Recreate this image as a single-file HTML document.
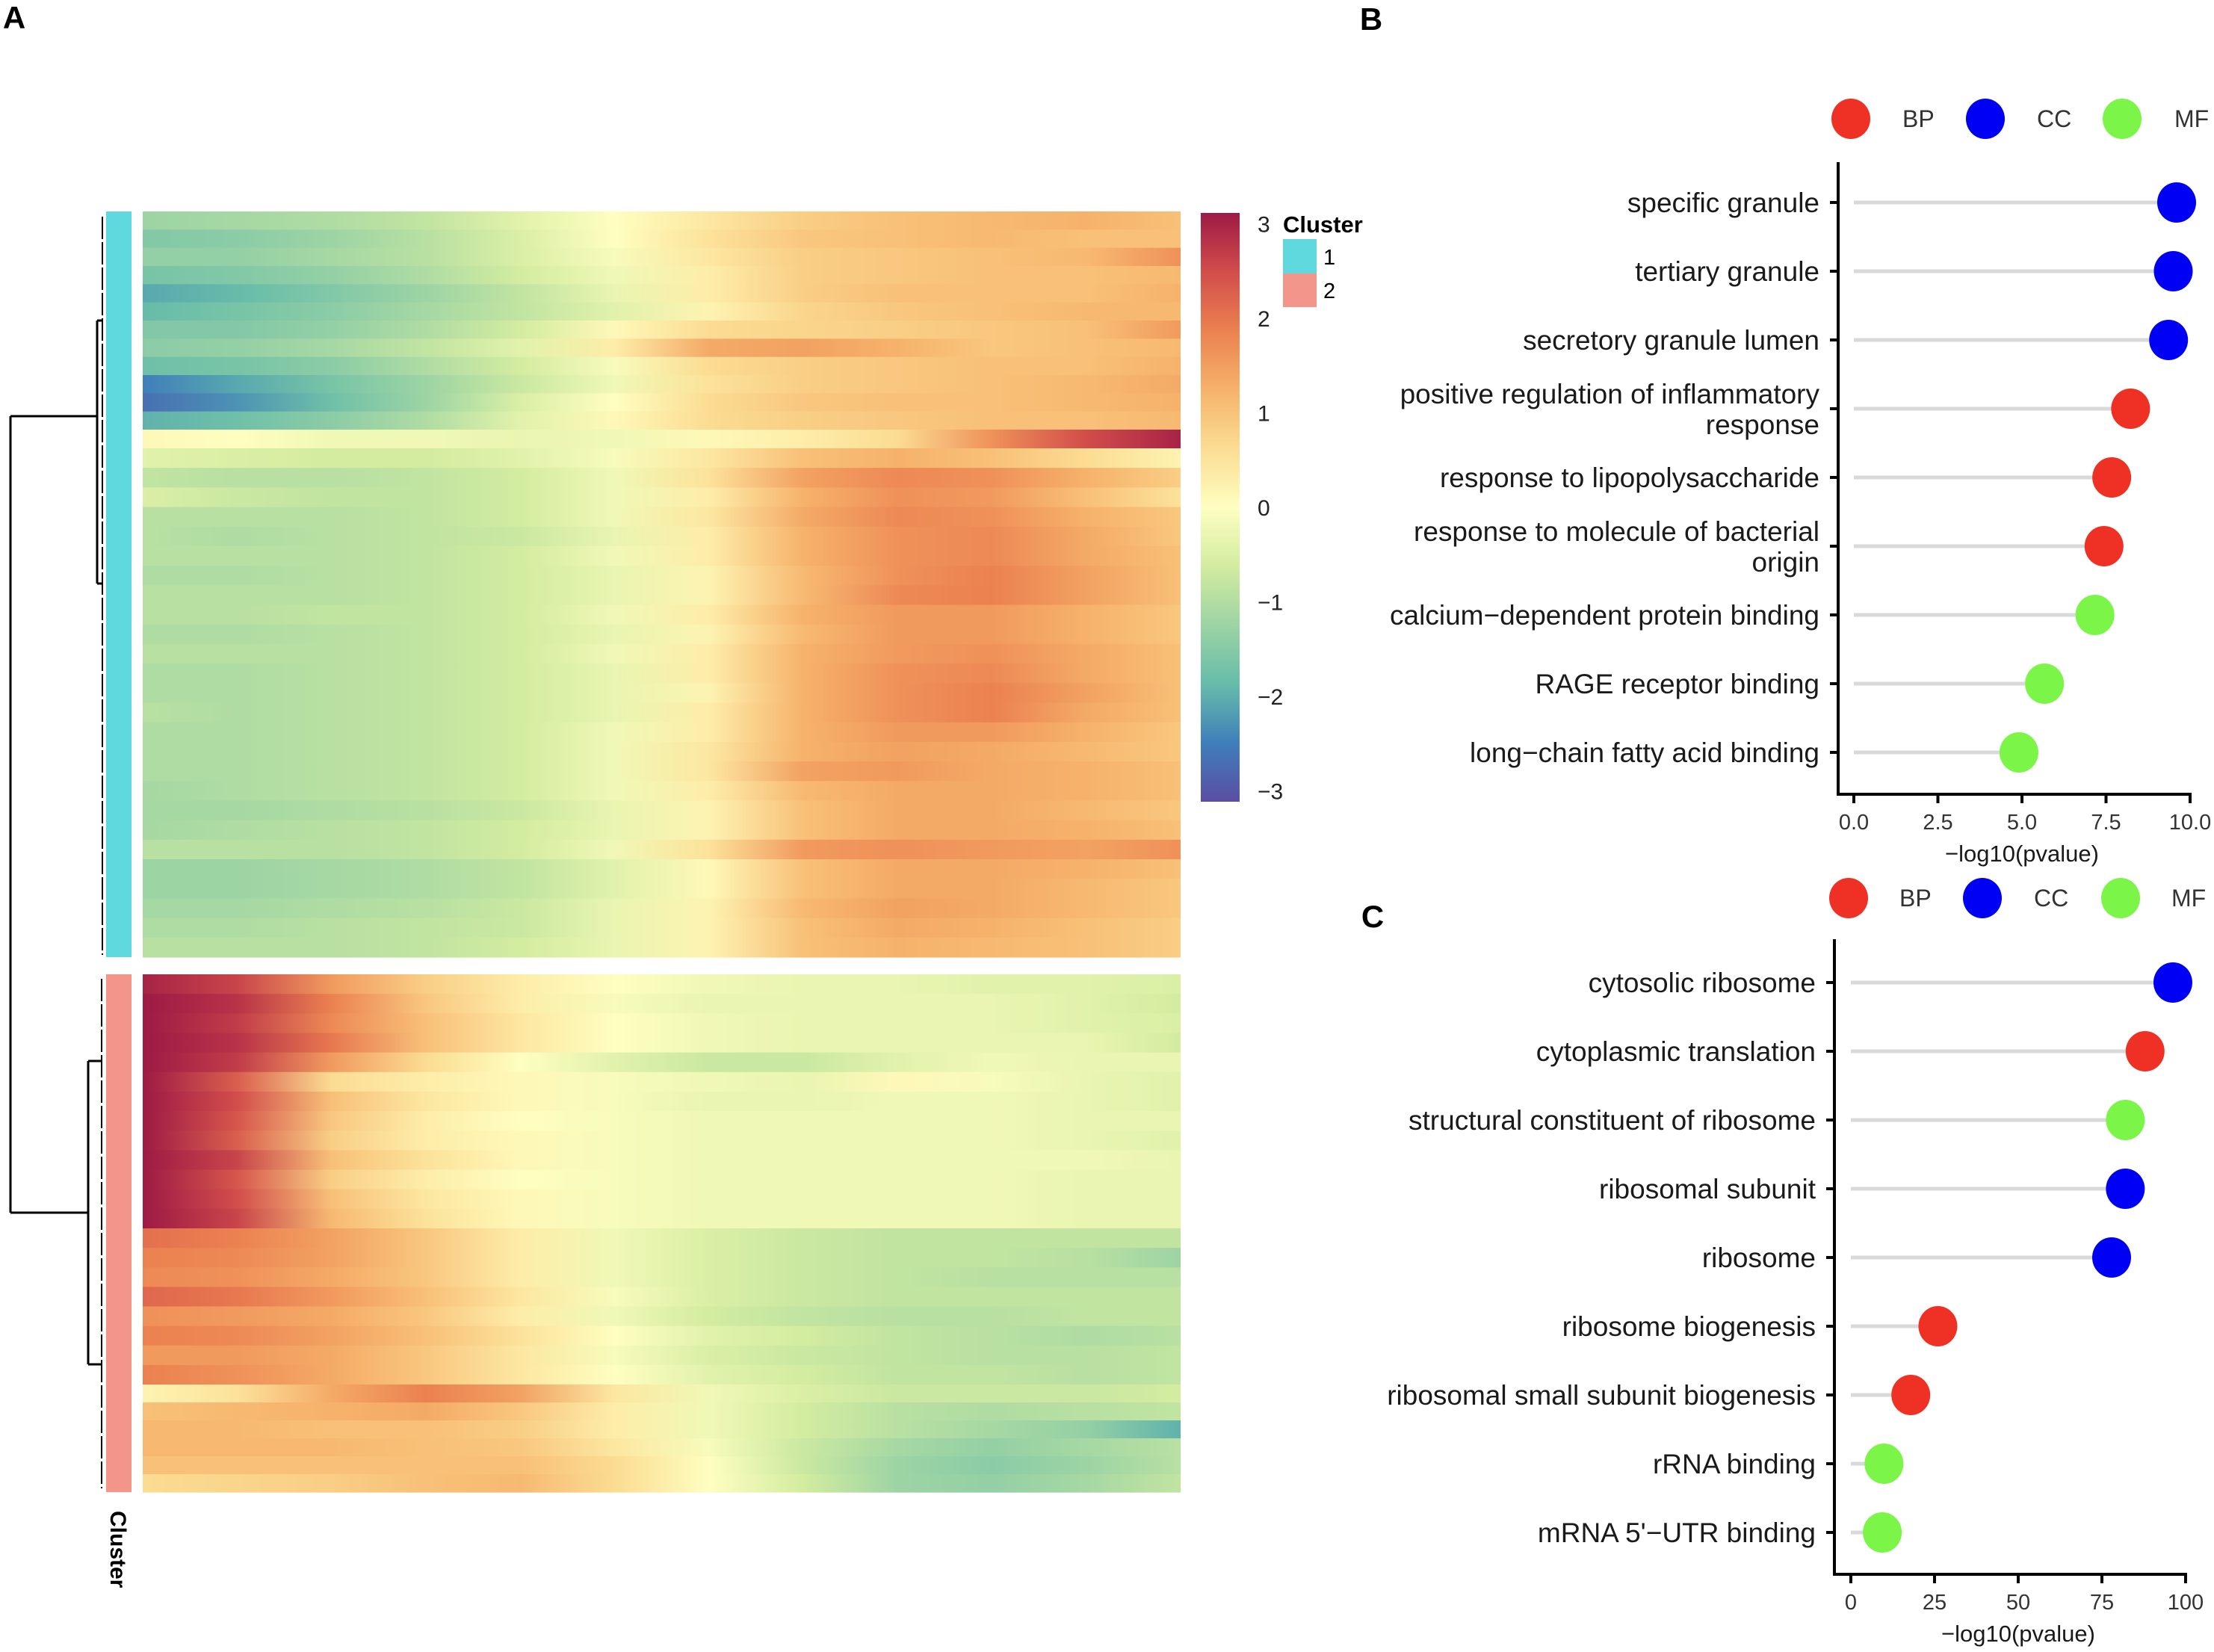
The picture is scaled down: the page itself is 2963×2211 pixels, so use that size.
<!DOCTYPE html>
<html><head><meta charset="utf-8">
<style>
html,body{margin:0;padding:0;background:#fff;}
svg{display:block;font-family:"Liberation Sans",Arial,sans-serif;}
</style></head>
<body>
<svg id="fig" width="2963" height="2211" viewBox="0 0 2963 2211" xmlns="http://www.w3.org/2000/svg">
<defs id="defs"></defs>
<text x="19" y="38" font-size="42" font-weight="bold" text-anchor="middle">A</text>
<text x="1835" y="40" font-size="42" font-weight="bold" text-anchor="middle">B</text>
<text x="1837" y="1241" font-size="42" font-weight="bold" text-anchor="middle">C</text>
<g id="heat"></g>
<g id="dendro" stroke="#000" stroke-width="3" fill="none">
  <path d="M14 557 V1623 M14 557 H130 M14 1623 H118 M130 429 V781 M130 429 H138 M130 781 H138 M118 1420 V1826 M118 1420 H136 M118 1826 H136"/>
  <path d="M137 290 V1278 M136 1310 V1992" stroke-width="2" stroke-dasharray="30 4"/>
</g>
<rect x="142" y="283" width="34" height="998" fill="#5fd8de"/>
<rect x="142" y="1304" width="34" height="693" fill="#f4958a"/>
<text transform="translate(148,2022) rotate(90)" font-size="30" font-weight="bold">Cluster</text>
<g id="cbar"></g>
<text x="1717" y="311" font-size="31" font-weight="bold">Cluster</text>
<rect x="1717" y="320" width="45" height="46" fill="#5fd8de"/>
<rect x="1717" y="366" width="45" height="45" fill="#f4958a"/>
<text x="1771" y="354" font-size="29">1</text>
<text x="1771" y="399" font-size="29">2</text>
<g id="panelB"></g>
<g id="panelC"></g>
</svg>
<script>
// ---------- Heatmap data (row profiles, 12 evenly spaced columns) ----------
const heatTopRows = [
 [-1.2,-1.1,-1.0,-0.8,-0.4,0.0,0.4,0.8,1.0,1.1,1.2,1.0],
 [-1.5,-1.4,-1.2,-0.9,-0.5,0.0,0.5,0.9,1.0,1.1,1.0,1.0],
 [-1.3,-1.3,-1.1,-0.9,-0.5,-0.1,0.4,0.8,0.9,1.0,1.1,1.6],
 [-1.6,-1.5,-1.3,-1.0,-0.6,-0.2,0.3,0.8,0.9,1.0,1.0,1.1],
 [-2.0,-1.8,-1.5,-1.2,-0.8,-0.3,0.3,0.8,1.0,1.0,1.0,1.2],
 [-1.8,-1.6,-1.4,-1.1,-0.8,-0.4,0.2,0.7,0.9,1.0,1.1,1.1],
 [-1.5,-1.5,-1.3,-1.0,-0.6,0.1,0.6,0.7,0.8,0.9,1.0,1.5],
 [-1.4,-1.3,-1.1,-0.8,-0.4,0.3,1.3,1.4,1.2,0.9,1.0,1.1],
 [-1.7,-1.6,-1.4,-1.0,-0.6,-0.1,0.6,0.8,0.9,1.0,1.0,1.2],
 [-2.4,-2.0,-1.6,-1.2,-0.7,-0.2,0.5,0.8,0.9,1.0,1.1,1.3],
 [-2.6,-2.2,-1.7,-1.2,-0.5,0.0,0.6,0.9,1.0,1.0,1.1,1.2],
 [-1.9,-1.7,-1.4,-1.0,-0.4,0.1,0.6,0.8,0.9,1.0,1.0,1.1]
];
const heatRedRow = [
 [0.1,0.0,-0.2,-0.2,-0.3,-0.2,0.1,0.3,0.6,1.6,2.4,2.9]
];
const heatMidRows = [
 [-0.4,-0.5,-0.6,-0.6,-0.4,-0.1,0.4,1.0,1.2,1.0,0.6,0.2],
 [-0.8,-0.9,-0.9,-0.8,-0.6,-0.2,0.5,1.4,1.7,1.6,1.2,0.8],
 [-0.5,-0.7,-0.8,-0.8,-0.6,-0.2,0.3,1.2,1.6,1.5,1.0,0.5],
 [-0.9,-0.9,-0.9,-0.8,-0.6,-0.2,0.4,1.3,1.7,1.6,1.2,0.9],
 [-0.9,-1.0,-0.9,-0.8,-0.7,-0.3,0.3,1.2,1.6,1.7,1.3,0.9],
 [-0.9,-0.9,-0.9,-0.8,-0.6,-0.2,0.3,1.2,1.6,1.7,1.3,1.0],
 [-1.0,-1.0,-0.9,-0.8,-0.6,-0.3,0.2,1.1,1.6,1.8,1.4,1.0],
 [-0.9,-0.9,-0.9,-0.8,-0.6,-0.3,0.2,1.1,1.7,1.8,1.4,1.0],
 [-0.9,-0.9,-0.8,-0.8,-0.6,-0.2,0.3,1.2,1.5,1.5,1.2,0.9],
 [-1.0,-1.0,-0.9,-0.8,-0.6,-0.3,0.2,1.1,1.5,1.5,1.2,0.9],
 [-0.9,-0.9,-0.9,-0.8,-0.6,-0.2,0.3,1.2,1.5,1.6,1.3,1.0],
 [-1.0,-1.0,-0.9,-0.8,-0.6,-0.3,0.3,1.2,1.6,1.7,1.3,1.0],
 [-1.0,-1.0,-0.9,-0.8,-0.6,-0.3,0.2,1.2,1.6,1.8,1.4,1.0],
 [-0.9,-1.0,-0.9,-0.8,-0.6,-0.3,0.3,1.2,1.6,1.8,1.3,1.0],
 [-1.0,-1.0,-0.9,-0.8,-0.6,-0.2,0.3,1.2,1.5,1.5,1.2,0.9],
 [-1.0,-1.0,-0.9,-0.8,-0.6,-0.2,0.4,1.2,1.4,1.3,1.1,0.9],
 [-1.0,-1.0,-0.9,-0.8,-0.6,-0.2,0.4,1.4,1.5,1.3,1.2,1.0],
 [-1.1,-1.0,-0.9,-0.8,-0.6,-0.2,0.3,1.1,1.3,1.3,1.2,1.0],
 [-1.1,-1.1,-1.0,-0.9,-0.7,-0.3,0.2,1.0,1.3,1.3,1.1,0.9],
 [-1.1,-1.0,-0.9,-0.8,-0.6,-0.3,0.2,1.0,1.3,1.3,1.2,1.0],
 [-0.9,-0.9,-0.9,-0.8,-0.6,-0.2,0.5,1.5,1.6,1.5,1.4,1.6],
 [-1.2,-1.2,-1.1,-1.0,-0.8,-0.4,0.1,1.0,1.3,1.3,1.2,1.0],
 [-1.2,-1.2,-1.1,-1.0,-0.8,-0.4,0.1,1.0,1.3,1.3,1.1,0.9],
 [-1.1,-1.1,-1.0,-0.9,-0.7,-0.3,0.2,1.1,1.4,1.3,1.1,0.9],
 [-1.0,-1.0,-0.9,-0.8,-0.7,-0.3,0.2,1.0,1.3,1.2,1.0,0.8],
 [-0.9,-0.9,-0.9,-0.8,-0.6,-0.3,0.2,1.0,1.2,1.1,1.0,0.8]
];
const heatC2aRows = [
 [2.9,2.5,1.5,0.8,0.3,0.0,-0.2,-0.3,-0.3,-0.4,-0.4,-0.5],
 [3.0,2.7,1.8,0.9,0.3,-0.1,-0.3,-0.3,-0.3,-0.3,-0.4,-0.6],
 [3.0,2.6,1.7,1.0,0.4,0.0,-0.2,-0.3,-0.3,-0.3,-0.4,-0.5],
 [3.0,2.7,1.9,1.0,0.4,0.0,-0.2,-0.3,-0.3,-0.3,-0.3,-0.6],
 [3.0,2.6,1.5,0.6,0.0,-0.4,-0.7,-0.7,-0.4,-0.2,-0.3,-0.3],
 [3.0,2.2,0.6,0.3,0.1,-0.1,-0.2,-0.3,0.1,-0.1,-0.3,-0.4],
 [3.0,2.4,1.0,0.4,0.1,-0.1,-0.3,-0.3,-0.2,-0.2,-0.3,-0.4],
 [3.0,2.3,0.9,0.3,0.0,-0.1,-0.2,-0.2,-0.2,-0.2,-0.3,-0.3],
 [3.0,2.2,0.8,0.3,0.1,-0.1,-0.2,-0.2,-0.2,-0.2,-0.3,-0.4],
 [3.0,2.5,1.0,0.5,0.1,-0.1,-0.2,-0.2,-0.2,-0.2,-0.2,-0.3],
 [3.0,2.3,0.8,0.3,0.0,-0.1,-0.2,-0.2,-0.2,-0.2,-0.3,-0.3],
 [3.0,2.4,1.0,0.4,0.1,-0.1,-0.2,-0.2,-0.2,-0.2,-0.3,-0.3],
 [3.0,2.5,1.1,0.5,0.1,-0.1,-0.2,-0.2,-0.2,-0.2,-0.3,-0.3]
];
const heatC2bRows = [
 [2.0,1.8,1.4,0.9,0.3,-0.2,-0.5,-0.7,-0.8,-0.8,-0.8,-0.8],
 [1.8,1.7,1.4,0.9,0.3,-0.2,-0.5,-0.7,-0.8,-0.8,-0.9,-1.2],
 [1.7,1.6,1.3,0.9,0.3,-0.2,-0.5,-0.7,-0.8,-0.9,-0.9,-0.9],
 [2.1,1.9,1.5,1.0,0.4,-0.1,-0.5,-0.7,-0.8,-0.8,-0.8,-0.8],
 [1.6,1.5,1.3,0.9,0.3,-0.2,-0.6,-0.8,-0.9,-0.9,-0.8,-0.8],
 [1.8,1.7,1.4,1.0,0.5,0.0,-0.4,-0.6,-0.8,-0.9,-1.0,-0.9],
 [1.5,1.5,1.3,0.9,0.4,-0.1,-0.5,-0.7,-0.8,-0.9,-0.9,-0.8],
 [1.8,1.6,1.3,0.9,0.4,0.0,-0.4,-0.6,-0.8,-0.8,-0.9,-0.8]
];
const heatC2cRows = [
 [0.2,0.5,1.3,1.8,1.4,0.4,-0.2,-0.5,-0.7,-0.7,-0.7,-0.6],
 [1.0,1.1,1.2,1.3,0.9,0.3,-0.2,-0.6,-0.9,-1.0,-0.9,-0.8],
 [1.1,1.1,1.0,1.0,0.8,0.3,-0.2,-0.6,-0.9,-1.1,-1.3,-1.9],
 [1.1,1.1,1.1,1.0,0.9,0.4,-0.1,-0.7,-1.1,-1.3,-1.1,-0.9],
 [1.0,1.0,1.0,1.0,1.0,0.6,0.0,-0.7,-1.2,-1.4,-1.2,-0.9],
 [0.6,0.7,0.8,1.0,1.1,0.6,0.0,-0.6,-1.2,-1.3,-1.1,-0.8]
];
// colour scale tick labels
const colorTicks = [3,2,1,0,-1,-2,-3];

// ---------- Panel B data ----------
const termsB = ["specific granule","tertiary granule","secretory granule lumen",["positive regulation of inflammatory","response"],"response to lipopolysaccharide",["response to molecule of bacterial","origin"],"calcium\u2212dependent protein binding","RAGE receptor binding","long\u2212chain fatty acid binding"];
const valuesB = [9.6,9.5,9.36,8.23,7.67,7.44,7.17,5.67,4.91];
const ontB = ["CC","CC","CC","BP","BP","BP","MF","MF","MF"];
const ticksB = [0,2.5,5,7.5,10];
const tickLabelsB = ["0.0","2.5","5.0","7.5","10.0"];

// ---------- Panel C data ----------
const termsC = ["cytosolic ribosome","cytoplasmic translation","structural constituent of ribosome","ribosomal subunit","ribosome","ribosome biogenesis","ribosomal small subunit biogenesis","rRNA binding","mRNA 5'\u2212UTR binding"];
const valuesC = [96.2,87.9,82,82,77.9,26,17.9,9.9,9.4];
const ontC = ["CC","BP","MF","CC","CC","BP","BP","MF","MF"];
const ticksC = [0,25,50,75,100];
const tickLabelsC = ["0","25","50","75","100"];
const legendKeys = ["BP","CC","MF"];

const NS = "http://www.w3.org/2000/svg";
const ontColor = {BP:"#ee3124", CC:"#0000f5", MF:"#7cf549"};
const cmapStops = [[-3,[91,78,162]],[-2.4,[63,127,186]],[-1.8,[102,188,169]],[-1.2,[157,212,164]],[-0.6,[211,236,160]],[0,[254,254,192]],[0.6,[251,220,146]],[1.2,[246,178,107]],[1.8,[235,129,80]],[2.4,[210,77,75]],[3,[158,26,69]]];
function cmap(v){
  v=Math.max(-3,Math.min(3,v));
  for(let i=0;i<cmapStops.length-1;i++){
    const a=cmapStops[i], b=cmapStops[i+1];
    if(v<=b[0]){const t=(v-a[0])/(b[0]-a[0]);
      const c=a[1].map((x,k)=>Math.round(x+(b[1][k]-x)*t));
      return "rgb("+c.join(",")+")";}
  }
  return "rgb(158,26,69)";
}
function mk(tag, attrs, parent){
  const e=document.createElementNS(NS,tag);
  for(const k in attrs) e.setAttribute(k, attrs[k]);
  if(parent) parent.appendChild(e);
  return e;
}
const defs=document.getElementById('defs');
const heat=document.getElementById('heat');
let gid=0;
const HX0=191, HX1=1580;
function drawBlock(rows, y0, y1, name){
  const h=(y1-y0)/rows.length;
  rows.forEach((r,i)=>{
    const id='g'+(gid++);
    const lg=mk('linearGradient',{id:id,x1:'0',x2:'1',y1:'0',y2:'0'},defs);
    r.forEach((v,j)=>{ mk('stop',{offset:(j/(r.length-1)).toFixed(4),'stop-color':cmap(v)},lg); });
    const rect=mk('rect',{x:HX0,y:(y0+i*h).toFixed(2),width:HX1-HX0,height:(h+0.6).toFixed(2),fill:'url(#'+id+')'},heat);
    
    
  });
}
drawBlock(heatTopRows,283,575,'cluster1-top');
drawBlock(heatRedRow,575,600,'cluster1-red');
drawBlock(heatMidRows,600,1281,'cluster1-main');
drawBlock(heatC2aRows,1304,1644,'cluster2-a');
drawBlock(heatC2bRows,1644,1853,'cluster2-b');
drawBlock(heatC2cRows,1853,1997,'cluster2-c');

// colour bar
const cb=document.getElementById('cbar');
const cbg=mk('linearGradient',{id:'cbgrad',x1:'0',x2:'0',y1:'1',y2:'0'},defs);
cmapStops.forEach(s=>mk('stop',{offset:((s[0]+3)/6).toFixed(3),'stop-color':cmap(s[0])},cbg));
const cbRect=mk('rect',{x:1607,y:285,width:52,height:788,fill:'url(#cbgrad)'},cb);


const cbY=v=>679-v*126.5;
colorTicks.forEach(v=>{
  const t=mk('text',{x:1683,y:(cbY(v)+11).toFixed(1),'font-size':30,fill:'#222'},cb);
  t.textContent=(v<0?'\u2212':'')+Math.abs(v);
  
  
});

// lollipop panels
function lollipop(g, terms, vals, onts, ticks, tlabels, cfg){
  const sx=v=>cfg.x0+(v-ticks[0])/(ticks[ticks.length-1]-ticks[0])*(cfg.x1-cfg.x0);
  const ry=i=>cfg.row0+i*cfg.step;
  legendKeys.forEach((k,i)=>{
    const c=mk('ellipse',{cx:cfg.legDots[i],cy:cfg.legY,rx:26,ry:27,fill:ontColor[k]},g);
    
    
    const t=mk('text',{x:cfg.legTexts[i],y:cfg.legY+11,'font-size':32,fill:'#333'},g);
    t.textContent=k;
    
    
  });
  vals.forEach((v,i)=>{
    const y=ry(i);
    const ln=mk('line',{x1:sx(0),x2:sx(v),y1:y,y2:y,stroke:'#d9d9d9','stroke-width':5},g);
    
    
    const tk=mk('line',{x1:cfg.ax-11,x2:cfg.ax,y1:y,y2:y,stroke:'#000','stroke-width':4},g);
    
    
    const d=mk('ellipse',{cx:sx(v),cy:y,rx:26,ry:27,fill:ontColor[onts[i]]},g);
    
    
    const lab=terms[i];
    const t=mk('text',{x:cfg.ax-25,y:y+13,'font-size':37,'text-anchor':'end',fill:'#1a1a1a'},g);
    
    
    if(Array.isArray(lab)){
      t.setAttribute('y',y-7);
      lab.forEach((s,k)=>{const ts=mk('tspan',{x:cfg.ax-25,dy:k?41:0},t); ts.textContent=s;});
    } else t.textContent=lab;
  });
  const ax=mk('path',{d:'M'+cfg.ax+' '+cfg.top+' V'+cfg.bot+' H'+(cfg.x1+2),stroke:'#000','stroke-width':4,fill:'none'},g);
  
  
  ticks.forEach((v,i)=>{
    const x=sx(v);
    const l=mk('line',{x1:x,x2:x,y1:cfg.bot,y2:cfg.bot+12,stroke:'#000','stroke-width':4},g);
    
    
    const t=mk('text',{x:x,y:cfg.bot+47,'font-size':29,'text-anchor':'middle',fill:'#333'},g);
    t.textContent=tlabels[i];
    
    
  });
  const tt=mk('text',{x:(cfg.x0+cfg.x1)/2,y:cfg.bot+90,'font-size':31,'text-anchor':'middle',fill:'#1a1a1a'},g);
  tt.textContent='\u2212log10(pvalue)';
  
  
}
lollipop(document.getElementById('panelB'),termsB,valuesB,ontB,ticksB,tickLabelsB,
  {x0:2481,x1:2931,ax:2460,row0:271,step:92,top:217,bot:1063,legY:159,legDots:[2477,2657,2840],legTexts:[2546,2726,2910]});
lollipop(document.getElementById('panelC'),termsC,valuesC,ontC,ticksC,tickLabelsC,
  {x0:2477,x1:2925,ax:2455,row0:1315,step:92,top:1257,bot:2107,legY:1202,legDots:[2474,2653,2838],legTexts:[2542,2722,2906]});
</script>
</body></html>
